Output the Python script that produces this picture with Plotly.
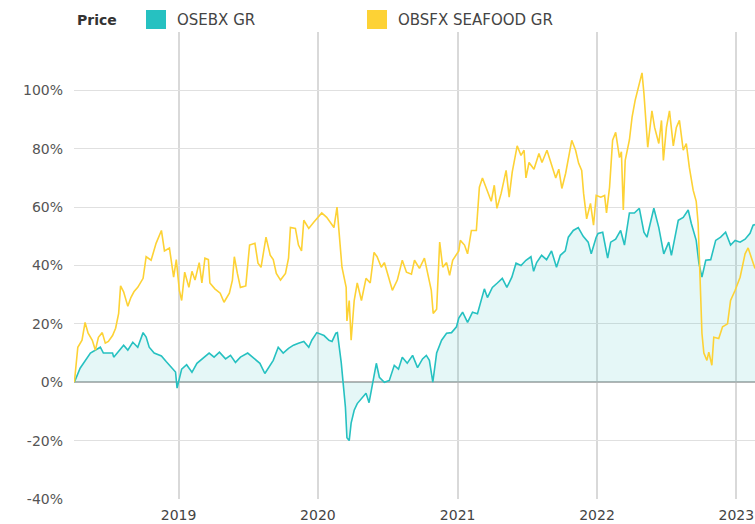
import plotly.graph_objects as go

# ---------------- data (percent change since start) ----------------
osebx_dates = [
    "2018-04-03", "2018-04-18", "2018-05-15", "2018-06-10", "2018-06-18", "2018-07-12", "2018-07-15",
    "2018-08-10", "2018-08-21", "2018-09-03", "2018-09-16", "2018-09-30", "2018-10-08", "2018-10-16",
    "2018-10-29", "2018-11-17", "2018-11-30", "2018-12-13", "2018-12-24", "2018-12-28",
    "2019-01-09", "2019-01-22", "2019-02-05", "2019-02-18", "2019-03-03", "2019-03-22", "2019-04-04",
    "2019-04-18", "2019-05-04", "2019-05-17", "2019-05-30", "2019-06-12", "2019-07-01", "2019-07-20",
    "2019-08-02", "2019-08-15", "2019-08-23", "2019-09-06", "2019-09-19", "2019-10-02", "2019-10-16",
    "2019-10-29", "2019-11-11", "2019-11-25", "2019-12-08", "2019-12-16", "2019-12-29",
    "2020-01-17", "2020-01-30", "2020-02-07", "2020-02-17", "2020-02-21", "2020-03-02", "2020-03-07",
    "2020-03-13", "2020-03-17", "2020-03-23", "2020-03-28", "2020-04-05", "2020-04-13", "2020-04-26",
    "2020-05-06", "2020-05-14", "2020-05-22", "2020-06-02", "2020-06-10", "2020-06-23", "2020-07-06",
    "2020-07-19", "2020-07-30", "2020-08-09", "2020-08-22", "2020-09-05", "2020-09-18", "2020-10-01",
    "2020-10-11", "2020-10-19", "2020-10-28", "2020-11-07", "2020-11-20", "2020-12-03", "2020-12-16",
    "2020-12-29",
    "2021-01-04", "2021-01-14", "2021-01-27", "2021-02-09", "2021-02-22", "2021-03-04", "2021-03-12",
    "2021-03-20", "2021-04-02", "2021-04-15", "2021-04-28", "2021-05-10", "2021-05-23", "2021-06-03",
    "2021-06-16", "2021-06-29", "2021-07-12", "2021-07-19", "2021-07-27", "2021-08-09", "2021-08-22",
    "2021-09-04", "2021-09-17", "2021-09-27", "2021-10-10", "2021-10-18", "2021-10-31", "2021-11-13",
    "2021-11-26", "2021-12-09", "2021-12-17", "2021-12-30",
    "2022-01-04", "2022-01-16", "2022-01-29", "2022-02-06", "2022-02-19", "2022-03-04", "2022-03-14",
    "2022-03-27", "2022-04-09", "2022-04-22", "2022-05-04", "2022-05-12", "2022-05-30", "2022-06-12",
    "2022-06-25", "2022-07-08", "2022-07-15", "2022-08-02", "2022-08-15", "2022-08-28", "2022-09-05",
    "2022-09-18", "2022-09-25", "2022-10-03", "2022-10-13", "2022-10-26", "2022-11-08", "2022-11-21",
    "2022-12-04", "2022-12-17", "2022-12-29",
    "2023-01-11", "2023-01-24", "2023-02-06", "2023-02-14", "2023-02-19",
]
osebx_values = [
    0, 4.8, 10, 12, 10, 10, 8.6, 12.7, 11, 13.7, 12, 17, 15.5, 12, 10, 9, 7, 5, 3.5, -2,
    4.5, 6, 3.4, 6.5, 8, 10, 8.6, 10.3, 8, 9.2, 6.8, 8.6, 10, 8, 6.5, 3, 4.8, 7.5, 12, 10, 11.6,
    12.7, 13.4, 14, 12, 14.4, 17,
    16, 14.4, 14, 16.8, 17, 6.8, 0.6, -8.5, -19, -20, -14, -9.6, -7.3, -5.5, -3.8, -7, -1.6, 6.5,
    1.7, 0, 0.6, 5.8, 4.5, 8.6, 6.5, 9.2, 5, 8, 9.2, 7.5, 0, 10, 14.4, 16.8, 17, 19,
    22, 24, 20.5, 24, 23.5, 28, 32, 29, 32.5, 34, 35.6, 32.5, 36, 40.8, 40, 41.8, 43, 38, 41, 43.5,
    42, 45, 39.4, 43.5, 45, 49.7, 52, 53, 50, 48, 44, 49.7,
    51, 51.4, 42.5, 48, 49, 52, 47, 58, 58, 59.6, 51.4, 49.7, 59.6, 53, 44, 48, 43.5, 55.5, 56.5,
    59, 54.5, 48.6, 40.8, 36, 41.8, 42, 48.6, 49.7, 51.4, 47, 48.6,
    48, 49, 51, 53.8, 54,
]

seafood_dates = [
    "2018-04-03", "2018-04-12", "2018-04-23", "2018-05-01", "2018-05-09", "2018-05-20", "2018-05-28",
    "2018-06-05", "2018-06-15", "2018-06-23", "2018-07-01", "2018-07-12", "2018-07-20", "2018-07-28",
    "2018-08-02", "2018-08-10", "2018-08-21", "2018-08-29", "2018-09-06", "2018-09-16", "2018-09-30",
    "2018-10-08", "2018-10-21", "2018-11-03", "2018-11-17", "2018-11-25", "2018-12-08", "2018-12-19",
    "2018-12-26",
    "2019-01-03", "2019-01-09", "2019-01-17", "2019-01-28", "2019-02-05", "2019-02-13", "2019-02-24",
    "2019-03-03", "2019-03-11", "2019-03-20", "2019-03-24", "2019-04-06", "2019-04-20", "2019-04-30",
    "2019-05-14", "2019-05-22", "2019-05-27", "2019-06-04", "2019-06-12", "2019-06-26", "2019-07-06",
    "2019-07-20", "2019-07-28", "2019-08-05", "2019-08-18", "2019-08-29", "2019-09-06", "2019-09-14",
    "2019-09-25", "2019-10-08", "2019-10-16", "2019-10-21", "2019-11-03", "2019-11-11", "2019-11-19",
    "2019-11-25", "2019-12-08", "2019-12-21",
    "2020-01-11", "2020-01-24", "2020-02-04", "2020-02-12", "2020-02-20", "2020-02-28", "2020-03-04",
    "2020-03-15", "2020-03-17", "2020-03-23", "2020-03-28", "2020-04-05", "2020-04-13", "2020-04-24",
    "2020-05-06", "2020-05-17", "2020-05-27", "2020-06-04", "2020-06-15", "2020-06-23", "2020-07-06",
    "2020-07-14", "2020-07-27", "2020-08-09", "2020-08-20", "2020-09-02", "2020-09-10", "2020-09-23",
    "2020-10-06", "2020-10-14", "2020-10-24", "2020-10-29", "2020-11-07", "2020-11-15", "2020-11-23",
    "2020-12-03", "2020-12-11", "2020-12-19",
    "2021-01-04", "2021-01-08", "2021-01-19", "2021-01-27", "2021-02-06", "2021-02-19", "2021-02-27",
    "2021-03-07", "2021-03-17", "2021-03-30", "2021-04-07", "2021-04-14", "2021-04-25", "2021-05-08",
    "2021-05-16", "2021-05-24", "2021-06-06", "2021-06-16", "2021-06-24", "2021-06-29", "2021-07-07",
    "2021-07-20", "2021-08-02", "2021-08-10", "2021-08-23", "2021-09-05", "2021-09-15", "2021-09-23",
    "2021-10-01", "2021-10-11", "2021-10-19", "2021-10-27", "2021-11-06", "2021-11-14", "2021-11-22",
    "2021-11-27", "2021-12-05", "2021-12-15", "2021-12-23", "2021-12-30",
    "2022-01-11", "2022-01-21", "2022-01-26", "2022-02-03", "2022-02-11", "2022-02-19", "2022-03-01",
    "2022-03-06", "2022-03-11", "2022-03-16", "2022-03-27", "2022-04-03", "2022-04-11", "2022-04-21",
    "2022-04-29", "2022-05-04", "2022-05-09", "2022-05-14", "2022-05-25", "2022-06-01", "2022-06-12",
    "2022-06-19", "2022-06-24", "2022-07-02", "2022-07-10", "2022-07-20", "2022-07-28", "2022-08-05",
    "2022-08-15", "2022-08-23", "2022-08-31", "2022-09-10", "2022-09-18", "2022-09-23", "2022-09-28",
    "2022-10-03", "2022-10-08", "2022-10-16", "2022-10-21", "2022-10-29", "2022-11-03", "2022-11-16",
    "2022-11-26", "2022-12-09", "2022-12-17", "2022-12-29",
    "2023-01-11", "2023-01-24", "2023-02-01", "2023-02-11", "2023-02-19",
]
seafood_values = [
    0, 12, 14.4, 20.5, 16.8, 14.4, 11, 15.4, 17, 13.4, 14, 16, 18.5, 23.6, 33, 31, 26, 29, 31, 32.5,
    35.6, 43, 41.8, 47.6, 52, 45, 46, 36, 42,
    31.5, 28, 37.7, 32.5, 38, 35, 41, 34, 42.5, 42, 34, 32, 30.5, 27.4, 30.5, 35, 43, 37.3, 32.5, 33,
    47, 47.6, 40.8, 39.4, 49.7, 43.5, 42, 37.3, 35, 37.3, 42.5, 53, 52.7, 47, 45, 55.5, 52.7, 54.8,
    58, 56.5, 54.5, 53, 60, 46, 39.4, 32.5, 21, 28, 14.4, 28, 34, 28, 35.6, 34, 44.5, 43, 39.4, 41,
    35, 31.5, 35, 41.8, 37.7, 37, 41.8, 39, 42.5, 37.3, 31.5, 23.6, 25, 48, 39.4, 41, 36.6, 41.8,
    45, 48.6, 47, 44, 52, 52, 66.8, 70, 66.4, 62, 67.5, 59.6, 64.7, 72.6, 63.4, 72, 81, 77.7, 79.5,
    70, 75.3, 73, 78.4, 75.3, 79.5, 74.3, 70, 73, 66.4, 71.6, 77.7, 82.9, 79.5, 75, 72.6, 64.7, 56,
    61.3, 53.8, 64,
    63.4, 64, 58, 66.8, 82.9, 85.6, 77, 79, 59, 76, 83, 90.8, 96.6, 101.7, 106, 99, 88.7, 80.5, 93,
    87.3, 81.8, 89.7, 76, 87.3, 93, 81, 87.3, 89.7, 79.5, 81.8, 73.6, 65.8, 62, 54.5, 36, 16.8, 10,
    7.5, 10.3, 5.8, 15.4, 15, 19, 20, 28, 31.5,
    36, 44, 46, 41.8, 39,
]

series_names = ["OSEBX GR", "OBSFX SEAFOOD GR"]
series_colors = ["#26c1c1", "#fdd235"]
y_ticks = [-40, -20, 0, 20, 40, 60, 80, 100, 120]
y_tick_labels = ["-40%", "-20%", "0%", "20%", "40%", "60%", "80%", "100%", ""]
x_range = ["2018-04-02", "2023-02-19"]

FONT = "DejaVu Sans"

fig = go.Figure()
fig.add_trace(go.Scatter(
    x=osebx_dates, y=osebx_values, name=series_names[0], mode="lines",
    line=dict(color=series_colors[0], width=1.6),
    fill="tozeroy", fillcolor="rgba(38,193,193,0.12)",
))
fig.add_trace(go.Scatter(
    x=seafood_dates, y=seafood_values, name=series_names[1], mode="lines",
    line=dict(color=series_colors[1], width=1.6),
))

# custom legend (paper coordinates above plot)
L, R, T, B = 74, 755, 32, 499
W, H = 755, 524
def px(x):
    return (x - L) / (R - L)
def py(y):
    return (B - y) / (B - T)

shapes = []
annotations = [dict(text="<b>Price</b>", x=px(75), y=py(20), xref="paper", yref="paper",
                    xanchor="left", yanchor="middle", showarrow=False,
                    font=dict(family=FONT, size=14, color="#333333"))]
for name, color, sx in zip(series_names, series_colors, [146, 367]):
    shapes.append(dict(type="rect", xref="paper", yref="paper",
                       x0=px(sx), x1=px(sx + 20), y0=py(29), y1=py(10),
                       fillcolor=color, line=dict(width=0)))
    annotations.append(dict(text=name, x=px(sx + 29), y=py(20), xref="paper", yref="paper",
                            xanchor="left", yanchor="middle", showarrow=False,
                            font=dict(family=FONT, size=15, color="#444444")))

fig.update_layout(
    width=W, height=H,
    margin=dict(l=L, r=W - R, t=T, b=H - B),
    paper_bgcolor="white", plot_bgcolor="white",
    showlegend=False,
    font=dict(family=FONT, color="#555555"),
    shapes=shapes, annotations=annotations,
    xaxis=dict(
        type="date", range=x_range, tick0="2019-01-01", dtick="M12", tickformat="%Y",
        showgrid=True, gridcolor="#d9d9d9", gridwidth=1.5, showline=False, zeroline=False,
        ticks="", ticklabelstandoff=6, tickfont=dict(family=FONT, size=14, color="#444444"),
    ),
    yaxis=dict(
        range=[-40, 120], tickvals=y_ticks, ticktext=y_tick_labels,
        showgrid=True, gridcolor="#e0e0e0", gridwidth=1,
        zeroline=True, zerolinecolor="#b5b5b5", zerolinewidth=1.5,
        showline=False, ticks="", ticklabelstandoff=10,
        tickfont=dict(family=FONT, size=14, color="#555555"),
    ),
)

fig.write_html("out.html", config={"displayModeBar": False},
               post_script="document.body.style.margin='0';")
